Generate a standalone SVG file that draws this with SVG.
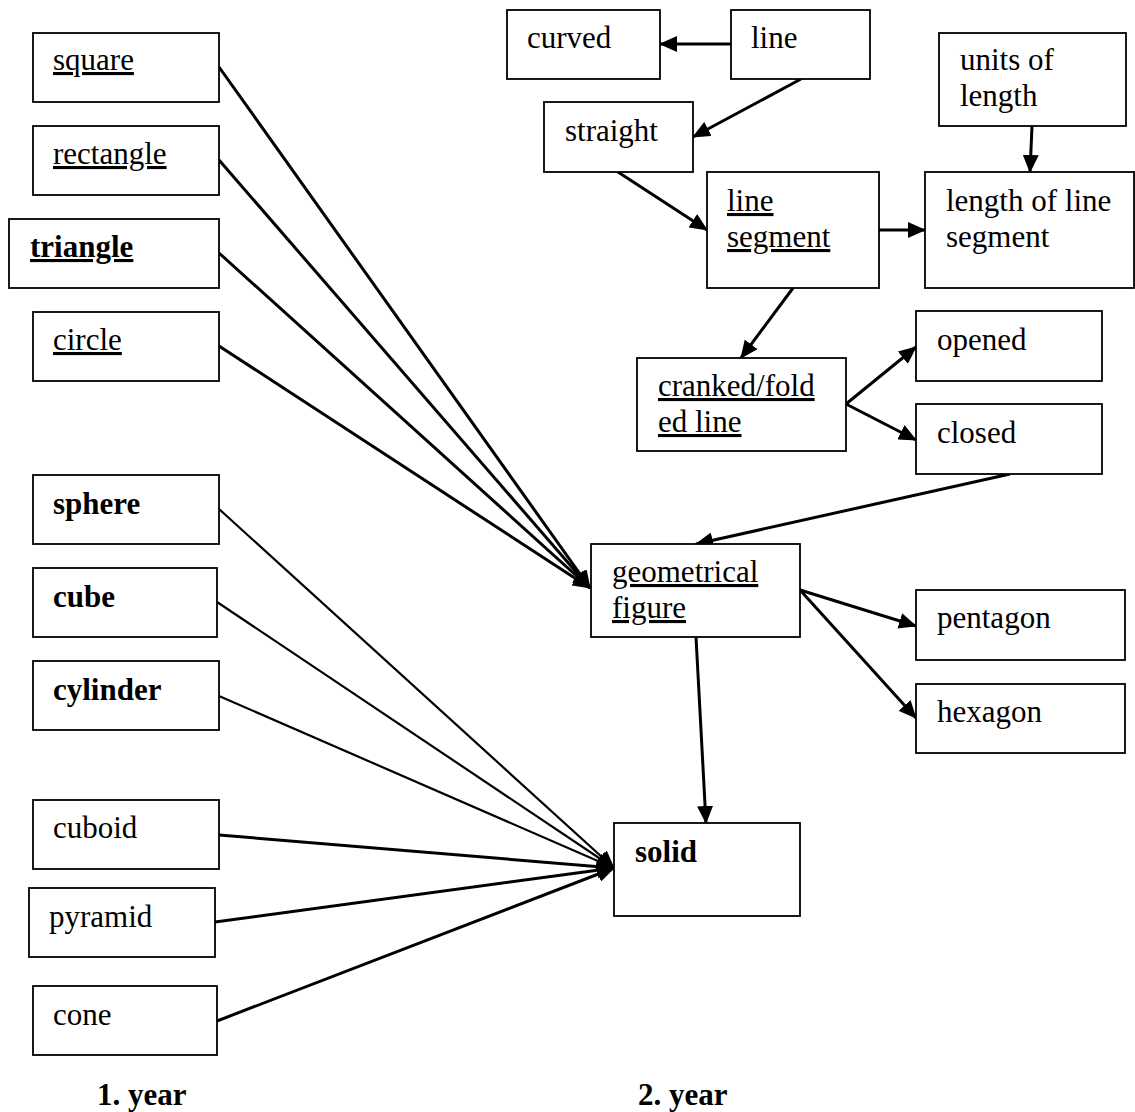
<svg xmlns="http://www.w3.org/2000/svg" width="1135" height="1112" viewBox="0 0 1135 1112">
<style>
.b{fill:#fff;stroke:#000;stroke-width:1.8}
text{font-family:"Liberation Serif","Times New Roman",serif;font-size:31px;fill:#000}
.u{text-decoration:underline}
.bd{font-weight:bold}
.c line{stroke:#000;stroke-width:3}
.c .t{stroke-width:2.2}
</style>
<defs>
<marker id="ah" viewBox="0 0 18 16" refX="17" refY="8" markerWidth="18" markerHeight="16" markerUnits="userSpaceOnUse" orient="auto">
<path d="M0,0 L18,8 L0,16 z" fill="#000"/>
</marker>
</defs>
<rect width="1135" height="1112" fill="#fff"/>
<g id="connectors" class="c">
<line x1="219" y1="67" x2="590" y2="588" marker-end="url(#ah)"/>
<line x1="219" y1="160" x2="590" y2="588" marker-end="url(#ah)"/>
<line x1="219" y1="253" x2="590" y2="588" marker-end="url(#ah)"/>
<line x1="219" y1="346" x2="590" y2="588" marker-end="url(#ah)"/>
<line class="t" x1="219" y1="509" x2="614" y2="868" marker-end="url(#ah)"/>
<line class="t" x1="217" y1="602" x2="614" y2="868" marker-end="url(#ah)"/>
<line class="t" x1="219" y1="696" x2="614" y2="868" marker-end="url(#ah)"/>
<line x1="219" y1="835" x2="614" y2="868" marker-end="url(#ah)"/>
<line x1="215" y1="922" x2="614" y2="868" marker-end="url(#ah)"/>
<line x1="217" y1="1021" x2="614" y2="868" marker-end="url(#ah)"/>
<line x1="731" y1="44" x2="660" y2="44" marker-end="url(#ah)"/>
<line x1="801" y1="79" x2="693" y2="137" marker-end="url(#ah)"/>
<line x1="618" y1="172" x2="707" y2="230" marker-end="url(#ah)"/>
<line x1="879" y1="230" x2="925" y2="230" marker-end="url(#ah)"/>
<line x1="1032" y1="126" x2="1030" y2="172" marker-end="url(#ah)"/>
<line x1="793" y1="288" x2="741" y2="358" marker-end="url(#ah)"/>
<line x1="846" y1="404" x2="916" y2="347" marker-end="url(#ah)"/>
<line x1="846" y1="404" x2="916" y2="440" marker-end="url(#ah)"/>
<line x1="1010" y1="474" x2="696" y2="544" marker-end="url(#ah)"/>
<line x1="800" y1="590" x2="916" y2="626" marker-end="url(#ah)"/>
<line x1="800" y1="590" x2="916" y2="718" marker-end="url(#ah)"/>
<line x1="696" y1="637" x2="706" y2="823" marker-end="url(#ah)"/>
</g>
<g id="square"><rect class="b" x="33" y="33" width="186" height="69"/><text class="u" x="53" y="70">square</text></g>
<g id="rectangle"><rect class="b" x="33" y="126" width="186" height="69"/><text class="u" x="53" y="164">rectangle</text></g>
<g id="triangle"><rect class="b" x="9" y="219" width="210" height="69"/><text class="u bd" x="30" y="257">triangle</text></g>
<g id="circle"><rect class="b" x="33" y="312" width="186" height="69"/><text class="u" x="53" y="350">circle</text></g>
<g id="sphere"><rect class="b" x="33" y="475" width="186" height="69"/><text class="bd" x="53" y="514">sphere</text></g>
<g id="cube"><rect class="b" x="33" y="568" width="184" height="69"/><text class="bd" x="53" y="607">cube</text></g>
<g id="cylinder"><rect class="b" x="33" y="661" width="186" height="69"/><text class="bd" x="53" y="700">cylinder</text></g>
<g id="cuboid"><rect class="b" x="33" y="800" width="186" height="69"/><text x="53" y="838">cuboid</text></g>
<g id="pyramid"><rect class="b" x="29" y="888" width="186" height="69"/><text x="49" y="927">pyramid</text></g>
<g id="cone"><rect class="b" x="33" y="986" width="184" height="69"/><text x="53" y="1025">cone</text></g>
<g id="curved"><rect class="b" x="507" y="10" width="153" height="69"/><text x="527" y="48">curved</text></g>
<g id="line"><rect class="b" x="731" y="10" width="139" height="69"/><text x="751" y="48">line</text></g>
<g id="units"><rect class="b" x="939" y="33" width="187" height="93"/><text x="960" y="70">units of</text><text x="960" y="106">length</text></g>
<g id="straight"><rect class="b" x="544" y="102" width="149" height="70"/><text x="565" y="141">straight</text></g>
<g id="segment"><rect class="b" x="707" y="172" width="172" height="116"/><text class="u" x="727" y="211">line</text><text class="u" x="727" y="247">segment</text></g>
<g id="length"><rect class="b" x="925" y="172" width="209" height="116"/><text x="946" y="211">length of line</text><text x="946" y="247">segment</text></g>
<g id="cranked"><rect class="b" x="637" y="358" width="209" height="93"/><text class="u" x="658" y="396">cranked/fold</text><text class="u" x="658" y="432">ed line</text></g>
<g id="opened"><rect class="b" x="916" y="311" width="186" height="70"/><text x="937" y="350">opened</text></g>
<g id="closed"><rect class="b" x="916" y="404" width="186" height="70"/><text x="937" y="443">closed</text></g>
<g id="geometrical"><rect class="b" x="591" y="544" width="209" height="93"/><text class="u" x="612" y="582">geometrical</text><text class="u" x="612" y="618">figure</text></g>
<g id="pentagon"><rect class="b" x="916" y="590" width="209" height="70"/><text x="937" y="628">pentagon</text></g>
<g id="hexagon"><rect class="b" x="916" y="684" width="209" height="69"/><text x="937" y="722">hexagon</text></g>
<g id="solid"><rect class="b" x="614" y="823" width="186" height="93"/><text class="bd" x="635" y="862">solid</text></g>
<text class="bd" x="97" y="1105">1. year</text>
<text class="bd" x="638" y="1105">2. year</text>
</svg>
